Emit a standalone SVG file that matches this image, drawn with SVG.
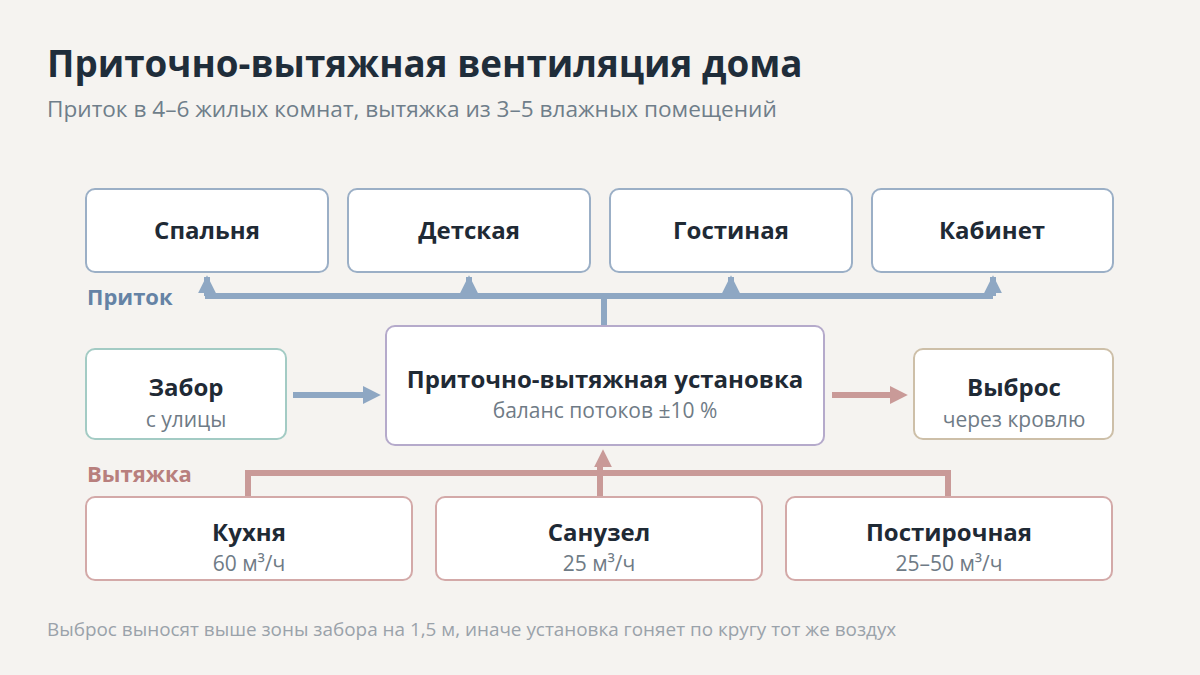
<svg xmlns="http://www.w3.org/2000/svg" width="1200" height="675" viewBox="0 0 1200 675">
<defs>
<style>
.bg{fill:#f5f3f0}
.box{fill:#ffffff;stroke-width:2}
.room{stroke:#9bafc6}
.exh{stroke:#d3a9a8}
.intake{stroke:#a3cbc4}
.out{stroke:#cdbfa8}
.unit{stroke:#b5aacb}
.lbl{font-family:"Open Sans","Noto Sans","DejaVu Sans",sans-serif;font-weight:700;font-size:24px;fill:#1f2a35;text-anchor:middle}
.sub{font-family:"Open Sans","Noto Sans","DejaVu Sans",sans-serif;font-size:21px;fill:#6f7b86;text-anchor:middle}
.sup{stroke:#8ea7c3;stroke-width:6;fill:none}
.ex{stroke:#c99a98;stroke-width:6;fill:none}
</style>
<marker id="ahB" viewBox="0 0 10 10" refX="9" refY="5" markerWidth="18" markerHeight="18" markerUnits="userSpaceOnUse" orient="auto"><path d="M0,0 L10,5 L0,10 Z" fill="#8ea7c3"/></marker>
<marker id="ahR" viewBox="0 0 10 10" refX="9" refY="5" markerWidth="18" markerHeight="18" markerUnits="userSpaceOnUse" orient="auto"><path d="M0,0 L10,5 L0,10 Z" fill="#c99a98"/></marker>
</defs>
<rect class="bg" x="0" y="0" width="1200" height="675"/>
<text x="47" y="77" font-family="Open Sans, Noto Sans, DejaVu Sans, sans-serif" font-weight="700" font-size="36.8" fill="#1f2d3a">Приточно-вытяжная вентиляция дома</text>
<text x="47" y="117" font-family="Open Sans, Noto Sans, DejaVu Sans, sans-serif" font-size="22.6" fill="#6f7e8a">Приток в 4–6 жилых комнат, вытяжка из 3–5 влажных помещений</text>

<g id="connectors">
<path class="sup" d="M205,296 H993"/>
<path class="sup" d="M604,296 V326"/>
<line class="sup" x1="207" y1="296" x2="207" y2="277" marker-end="url(#ahB)" stroke-width="0"/>
<line class="sup" x1="469" y1="296" x2="469" y2="277" marker-end="url(#ahB)" stroke-width="0"/>
<line class="sup" x1="731" y1="296" x2="731" y2="277" marker-end="url(#ahB)" stroke-width="0"/>
<line class="sup" x1="993" y1="296" x2="993" y2="277" marker-end="url(#ahB)" stroke-width="0"/>
<line class="sup" x1="293" y1="395" x2="370" y2="395"/>
<line x1="360" y1="395" x2="379" y2="395" stroke-width="0" stroke="#8ea7c3" marker-end="url(#ahB)"/>
<line class="ex" x1="832" y1="395" x2="897" y2="395"/>
<line x1="886" y1="395" x2="906" y2="395" stroke-width="0" stroke="#c99a98" marker-end="url(#ahR)"/>
<path class="ex" d="M248,497 V473 H948 V497"/>
<path class="ex" d="M600,497 V462"/>
<line x1="603" y1="470" x2="603" y2="451" stroke-width="0" stroke="#c99a98" marker-end="url(#ahR)"/>
</g>

<text x="87" y="305" font-family="Open Sans, Noto Sans, DejaVu Sans, sans-serif" font-weight="700" font-size="22" fill="#6583a5">Приток</text>
<text x="87" y="482" font-family="Open Sans, Noto Sans, DejaVu Sans, sans-serif" font-weight="700" font-size="22" fill="#b87f7d">Вытяжка</text>

<g id="n-bedroom"><rect class="box room" x="86" y="189" width="242" height="83" rx="9"/><text class="lbl" x="207" y="239">Спальня</text></g>
<g id="n-kids"><rect class="box room" x="348" y="189" width="242" height="83" rx="9"/><text class="lbl" x="469" y="239">Детская</text></g>
<g id="n-living"><rect class="box room" x="610" y="189" width="242" height="83" rx="9"/><text class="lbl" x="731" y="239">Гостиная</text></g>
<g id="n-study"><rect class="box room" x="872" y="189" width="241" height="83" rx="9"/><text class="lbl" x="992" y="239">Кабинет</text></g>

<g id="n-intake"><rect class="box intake" x="86" y="349" width="200" height="90" rx="9"/><text class="lbl" x="186" y="396">Забор</text><text class="sub" x="186" y="427">с улицы</text></g>
<g id="n-unit"><rect class="box unit" x="386" y="326" width="438" height="119" rx="9"/><text class="lbl" x="605" y="388" font-size="24.5">Приточно-вытяжная установка</text><text class="sub" x="605" y="418">баланс потоков ±10 %</text></g>
<g id="n-exhaust"><rect class="box out" x="914" y="349" width="199" height="90" rx="9"/><text class="lbl" x="1014" y="396">Выброс</text><text class="sub" x="1014" y="427">через кровлю</text></g>

<g id="n-kitchen"><rect class="box exh" x="86" y="497" width="326" height="83" rx="9"/><text class="lbl" x="249" y="541">Кухня</text><text class="sub" x="249" y="571">60 м³/ч</text></g>
<g id="n-bath"><rect class="box exh" x="436" y="497" width="326" height="83" rx="9"/><text class="lbl" x="599" y="541">Санузел</text><text class="sub" x="599" y="571">25 м³/ч</text></g>
<g id="n-laundry"><rect class="box exh" x="786" y="497" width="326" height="83" rx="9"/><text class="lbl" x="949" y="541">Постирочная</text><text class="sub" x="949" y="571">25–50 м³/ч</text></g>

<text x="47" y="636" font-family="Open Sans, Noto Sans, DejaVu Sans, sans-serif" font-size="18.9" fill="#9aa2aa">Выброс выносят выше зоны забора на 1,5 м, иначе установка гоняет по кругу тот же воздух</text>
</svg>
